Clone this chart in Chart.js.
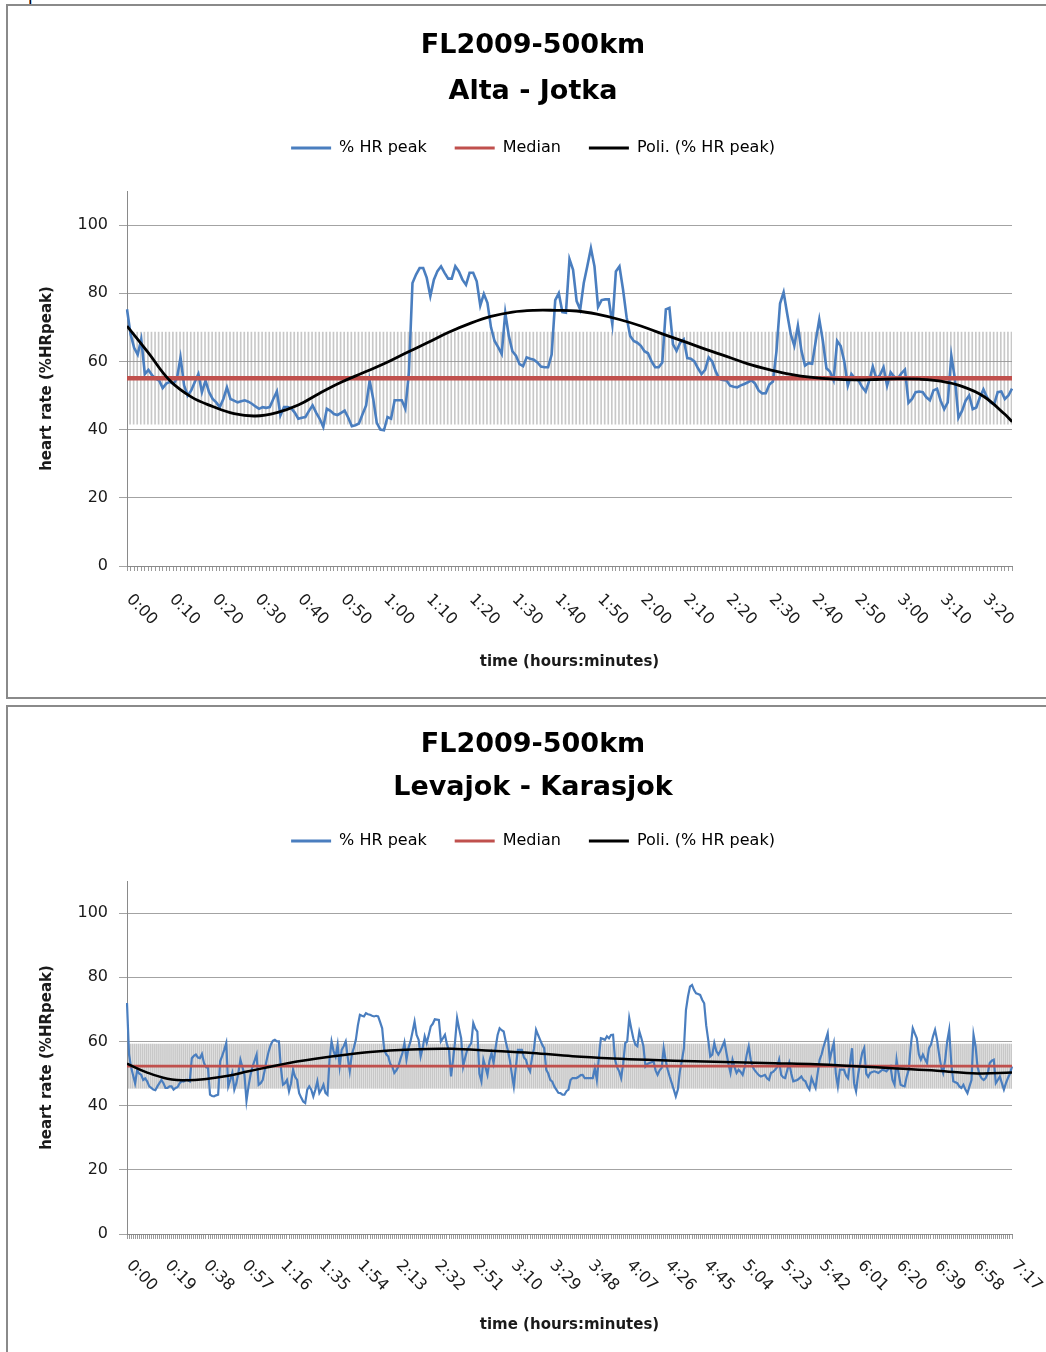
<!DOCTYPE html>
<html>
<head>
<meta charset="utf-8">
<title>FL2009-500km heart rate</title>
<script src="https://cdn.jsdelivr.net/npm/chart.js@4.4.0/dist/chart.umd.min.js"></script>
<style>
  html, body { margin: 0; padding: 0; background: #fff; overflow: hidden; }
  body { width: 1046px; height: 1352px; position: relative; }
  .frame { position: absolute; left: 6px; width: 1060px; border: 2px solid #8a8a8a; overflow: hidden; }
  #frameTop { top: 4px; height: 691px; }
  #frameBottom { top: 705px; height: 660px; }
  .frame canvas { position: absolute; left: 0; top: 0; }
  .stray { position: absolute; left: 28px; top: -17px; font: 20px/20px "Liberation Serif", serif; color: #000; }
</style>
</head>
<body>
<div class="stray">p</div>
<div class="frame" id="frameTop"><canvas id="chartTop" width="1050" height="691"></canvas></div>
<div class="frame" id="frameBottom"><canvas id="chartBottom" width="1050" height="660"></canvas></div>
<script>
// ---- Alta - Jotka (one sample every 50 s) ----
const TOP_SAMPLE_SEC = 50;
const topTickStep = 12; // 12 samples = 10 minutes
const topTickLabels = ['0:00', '0:10', '0:20', '0:30', '0:40', '0:50', '1:00', '1:10', '1:20', '1:30', '1:40',
    '1:50', '2:00', '2:10', '2:20', '2:30', '2:40', '2:50', '3:00', '3:10', '3:20'];
const topHR = [
    75.3, 68, 64, 62, 66.5, 56.3, 57.5, 56, 55, 54.4,
    52.2, 53.5, 54, 53.4, 55, 61.2, 53, 50, 51.5, 54,
    56.3, 51, 54.4, 51, 49, 48, 46.6, 49, 52.4, 49,
    48.5, 48, 48.3, 48.6, 48.2, 47.6, 46.8, 46.1, 46.6, 46.4,
    46.6, 49, 51.2, 44.2, 46.6, 46.6, 46.3, 45, 43.2, 43.5,
    43.7, 45.5, 47.1, 45, 43.2, 40.8, 46.1, 45.5, 44.6, 44.3,
    44.9, 45.6, 43.5, 41, 41.3, 41.8, 44.5, 47.1, 54.4, 49,
    42, 40, 39.8, 43.7, 43.2, 48.6, 48.6, 48.6, 46.1, 56.8,
    83, 85.5, 87.4, 87.4, 84.5, 79.2, 84, 86.5, 87.9, 86,
    84.3, 84.3, 87.9, 86.4, 84, 82.5, 86, 86, 83.5, 76.4,
    79.8, 77.2, 70, 66, 64.2, 62.2, 74.3, 67.5, 63, 61.7,
    59.2, 58.6, 61.2, 60.8, 60.5, 59.7, 58.5, 58.3, 58.3, 62,
    78, 80, 74.5, 74.3, 90, 86.9, 77.7, 75.2, 83, 88,
    93.2, 87.9, 76, 78, 78.2, 78.2, 70.9, 86.4, 87.9, 81.1,
    73, 67.5, 66, 65.5, 64.6, 63, 62.4, 60, 58.3, 58.3,
    59.7, 75.3, 75.7, 65, 63.1, 65.5, 66.5, 61, 60.8, 60,
    58, 56.3, 57.5, 61.2, 60, 57, 54.9, 54.6, 54.4, 52.9,
    52.6, 52.4, 53, 53.4, 53.9, 54.5, 53.5, 51.5, 50.6, 50.7,
    53.2, 54.1, 63, 77, 80.3, 74, 68, 64.6, 70.5, 63.1,
    58.8, 59.5, 59.3, 66, 72.3, 66, 58, 57, 54.5, 66,
    64.5, 60, 52.9, 56.3, 55, 54.4, 52.5, 51.2, 54.4, 58.5,
    55, 56, 58.3, 52.9, 56.8, 55.5, 55, 56.5, 57.6, 47.9,
    49, 51, 51.2, 51, 49.5, 48.6, 51.5, 52, 48.5, 46,
    48, 61.7, 54.9, 43.5, 45.5, 48.5, 50, 46, 46.5, 49.5,
    51.8, 49.5, 48, 47.5, 51, 51.2, 49, 50, 52
];
const topMedian = 55.1;
const topSpread = 13.5;
const topTrendMin = [0, 5, 10, 15, 20, 25, 30, 35, 40, 45, 50, 55, 60, 65, 70, 75, 80, 85, 90, 95, 100,
    105, 110, 115, 120, 125, 130, 135, 140, 145, 150, 155, 160, 165, 170, 175, 180, 185, 190, 195, 200, 205, 206.7];
const topTrendVal = [70.4, 62.5, 54.4, 49.6, 46.8, 44.7, 44.0, 45.0, 47.2, 50.7, 53.9, 56.6, 59.3, 62.4, 65.4,
    68.5, 71.1, 73.2, 74.5, 75.0, 75.0, 74.8, 73.8, 72.3, 70.4, 68.1, 65.9, 63.6, 61.5, 59.3, 57.6, 56.2,
    55.3, 54.8, 54.6, 54.7, 54.9, 54.8, 54.2, 52.7, 49.8, 44.5, 42.3];

// ---- Levajok - Karasjok (one sample per minute) ----
const BOTTOM_SAMPLE_SEC = 60;
const bottomTickStep = 19;
const bottomTickLabels = ['0:00', '0:19', '0:38', '0:57', '1:16', '1:35', '1:54', '2:13', '2:32', '2:51', '3:10',
    '3:29', '3:48', '4:07', '4:26', '4:45', '5:04', '5:23', '5:42', '6:01', '6:20', '6:39', '6:58', '7:17'];
const bottomHR = [
    72, 56, 52, 49.5, 47, 51, 50, 49.6, 48, 48.5,
    47.5, 46, 45.5, 45, 44.8, 46, 47, 48, 47, 45.5,
    45.5, 46, 46, 45, 45.5, 45.8, 47, 47.6, 47.5, 48,
    48, 47.6, 54.8, 55.5, 55.9, 55, 54.8, 56.1, 53.3, 52,
    51.7, 43.4, 43, 42.9, 43.2, 43.4, 53.8, 55.5, 57.4, 59.5,
    46, 48, 50.2, 45, 47, 50.2, 54.3, 52, 49.6, 41.5,
    46, 49.6, 52.2, 54, 55.9, 46.5, 47, 48, 51, 54.3,
    57, 59, 60.2, 60.5, 60, 60, 51.7, 46.5, 47, 48,
    44.5, 47, 51.2, 49, 48, 43.9, 42.5, 41.3, 40.8, 45,
    46, 45, 42.9, 45, 47.6, 43.9, 45, 46.5, 44, 43.4,
    54.3, 60, 57, 55.3, 59, 52.2, 57.4, 58.5, 60, 55,
    50.7, 55.9, 58, 60.5, 65, 68.3, 68, 67.8, 68.8, 68.5,
    68.3, 68, 67.8, 68, 67.8, 66, 64.1, 57.4, 56, 55.3,
    53, 52.2, 50.2, 51, 52.2, 54.5, 56.4, 59.5, 54.3, 58,
    60, 63, 66.2, 62, 60.5, 55.3, 58, 61.6, 59.5, 62,
    64.7, 65.5, 66.9, 66.8, 66.7, 60, 61, 62.1, 59, 57.4,
    49.1, 54.3, 60, 67.3, 64, 61, 52.2, 55, 57.4, 58.5,
    59.5, 65.7, 64, 63.1, 50, 47.6, 54.3, 52, 49.6, 54,
    56.4, 53.3, 58, 62, 64.1, 63.5, 63.1, 60, 57.4, 54.3,
    50, 46, 52, 57.4, 57.4, 57.4, 55, 54.3, 52, 50.7,
    55, 57.9, 63.6, 62, 60.5, 59, 57.9, 51.2, 50, 48,
    47.5, 46, 45, 44, 43.9, 43.4, 43.4, 44.5, 45, 48,
    48.6, 48.6, 48.6, 49, 49.5, 49.6, 48.6, 48.6, 48.6, 48.6,
    48.6, 51.7, 48, 55, 61, 60.8, 60.5, 61.6, 61, 62,
    62.1, 54.3, 52, 50.7, 48.6, 53, 59.5, 60, 67.3, 64,
    61, 59, 58.5, 63.1, 61, 58.5, 52.2, 53, 53.3, 53.5,
    53.8, 51, 49.6, 51, 51.7, 57.9, 54, 51.2, 49, 47,
    45, 42.9, 45, 50.7, 54, 57.9, 69.8, 74, 77.1, 77.6,
    76, 75, 74.8, 74.5, 73, 71.9, 65, 60.5, 55.3, 55.9,
    59.5, 57, 55.9, 57, 58.5, 60, 56.4, 53, 50.2, 54.3,
    52, 50.2, 51.2, 50.5, 49.6, 52, 55.9, 58.5, 54.3, 52,
    51, 50.2, 49.5, 49.1, 49.3, 49.6, 48.5, 48, 50.2, 50.5,
    51.2, 52, 54.3, 49.6, 48.8, 48.6, 51, 53.3, 50, 47.6,
    47.8, 48, 48.5, 49.1, 48, 47.6, 46, 45, 48.6, 47,
    45.5, 50, 54.3, 56, 58.5, 60.5, 62.6, 54.3, 57, 59.5,
    50, 46, 51.2, 51.2, 51.2, 49.5, 48.6, 53, 57.9, 47,
    44.5, 49.6, 53, 56.4, 57.9, 50, 49, 50.2, 50.5, 50.7,
    50.5, 50.2, 50.7, 51.2, 51, 50.7, 51.5, 52.2, 48, 46.5,
    54.3, 50, 46.5, 46.2, 46, 49, 51.2, 58.5, 64.1, 62.5,
    61, 56, 54.3, 55.9, 54.5, 53.3, 57.9, 59, 61.6, 63.6,
    60.5, 56, 52.2, 50.2, 54.3, 60, 63.6, 53.3, 47.6, 47.3,
    47, 46, 45.5, 46.5, 45, 43.9, 46, 48, 62.1, 58.5,
    52, 49.6, 48.5, 48, 48.6, 50, 53.3, 54, 54.3, 47,
    48, 49.1, 47, 45, 47, 48.6, 50, 52.2
];
const bottomMedian = 52.3;
const bottomSpread = 6.9;
const bottomTrendMin = [0, 10, 20, 30, 40, 50, 60, 80, 100, 120, 140, 160, 180, 200, 220, 240, 260, 280, 300,
    320, 340, 360, 380, 400, 420, 437];
const bottomTrendVal = [53.1, 50.3, 48.4, 47.9, 48.4, 49.3, 50.7, 53.3, 55.2, 56.7, 57.5, 57.7, 57.1, 56.4, 55.4,
    54.7, 54.2, 53.8, 53.5, 53.2, 52.9, 52.3, 51.6, 50.9, 50.0, 50.3];

const FONT = '"DejaVu Sans", sans-serif';
Chart.defaults.font.family = FONT;

function clockLabels(count, stepSec) {
    const out = [];
    for (let i = 0; i < count; i++) {
        const s = i * stepSec;
        const h = Math.floor(s / 3600);
        const m = Math.floor((s % 3600) / 60);
        out.push(h + ':' + String(m).padStart(2, '0') + ':' + String(s % 60).padStart(2, '0'));
    }
    return out;
}

// slanted time labels under the category axis (text runs down to the right)
const slantedLabels = {
    id: 'slantedLabels',
    afterDraw(chart, args, opts) {
        const xs = chart.scales.x;
        const ctx = chart.ctx;
        ctx.save();
        ctx.font = '16px ' + FONT;
        ctx.fillStyle = '#1a1a1a';
        ctx.textAlign = 'left';
        ctx.textBaseline = 'middle';
        opts.texts.forEach((t, k) => {
            ctx.save();
            ctx.translate(xs.getPixelForValue(k * opts.step) + 2, xs.top + opts.dy);
            ctx.rotate(Math.PI / 4);
            ctx.fillText(t, 0, 0);
            ctx.restore();
        });
        ctx.restore();
    }
};

function buildChart(canvasId, c) {
    const labels = clockLabels(c.hr.length, c.sampleSec);
    const lastMin = (c.hr.length - 1) * c.sampleSec / 60;
    return new Chart(document.getElementById(canvasId), {
        type: 'line',
        data: {
            labels: labels,
            datasets: [
                {
                    label: '% HR peak',
                    data: c.hr,
                    borderColor: '#4a7ebf',
                    backgroundColor: '#4a7ebf',
                    borderWidth: c.hrWidth,
                    pointRadius: 0,
                    tension: 0,
                    order: 3
                },
                {
                    label: 'Median',
                    data: [{x: 0, y: c.median}, {x: lastMin, y: c.median}],
                    xAxisID: 'xt',
                    borderColor: '#c0504d',
                    backgroundColor: '#c0504d',
                    borderWidth: c.medianWidth,
                    pointRadius: 0,
                    order: 2
                },
                {
                    label: 'Poli. (% HR peak)',
                    data: c.trendMin.map((m, i) => ({x: m, y: c.trendVal[i]})),
                    xAxisID: 'xt',
                    borderColor: '#000',
                    backgroundColor: '#000',
                    borderWidth: c.trendWidth,
                    pointRadius: 0,
                    tension: 0.4,
                    order: 1
                },
                {
                    type: 'bar',
                    label: '',
                    data: labels.map(() => [c.median - c.spread, c.median + c.spread]),
                    backgroundColor: 'rgba(145,145,145,0.5)',
                    barThickness: 1,
                    order: 4
                }
            ]
        },
        options: {
            responsive: false,
            animation: false,
            events: [],
            layout: {autoPadding: false, padding: 0},
            scales: {
                x: {
                    type: 'category',
                    offset: false,
                    grid: {display: true, drawOnChartArea: false, drawTicks: true, tickLength: 5, color: '#9a9a9a', offset: false},
                    border: {display: true, color: '#8a8a8a'},
                    ticks: {display: false, autoSkip: false},
                    title: {
                        display: true,
                        text: 'time (hours:minutes)',
                        color: '#1a1a1a',
                        font: {size: 15, weight: 'bold'},
                        padding: {top: 0, bottom: c.xTitlePad}
                    },
                    afterFit(s) { s.height = c.xAxisH; }
                },
                xt: {
                    type: 'linear',
                    display: false,
                    min: 0,
                    max: lastMin,
                    offset: false
                },
                y: {
                    min: 0,
                    max: 110,
                    grid: {color: '#a3a3a3', tickLength: 8},
                    border: {display: true, color: '#8a8a8a'},
                    ticks: {stepSize: 20, includeBounds: false, padding: 11, color: '#1a1a1a', font: {size: 16}},
                    title: {
                        display: true,
                        text: 'heart rate (%HRpeak)',
                        color: '#1a1a1a',
                        font: {size: 15, weight: 'bold'},
                        padding: {top: 30, bottom: 0}
                    },
                    afterFit(s) { s.width = 119; }
                },
                // empty right margin, so the title and legend stay centred on the whole frame
                yGap: {
                    position: 'right',
                    display: true,
                    grid: {display: false, drawTicks: false},
                    border: {display: false},
                    ticks: {display: false},
                    afterFit(s) { s.width = 46; }
                }
            },
            plugins: {
                title: {
                    display: true,
                    text: c.title,
                    color: '#000',
                    font: {size: 27, weight: 'bold', lineHeight: c.titleLine + 'px'},
                    padding: {top: c.titlePadTop, bottom: c.titlePadBottom}
                },
                legend: {
                    display: true,
                    position: 'top',
                    labels: {
                        boxWidth: 40,
                        boxHeight: 3,
                        padding: 28,
                        color: '#1a1a1a',
                        font: {size: 16},
                        generateLabels(chart) {
                            return chart.data.datasets
                                .map((ds, i) => ({text: ds.label, fillStyle: ds.borderColor, strokeStyle: ds.borderColor,
                                    lineWidth: 0, hidden: false, datasetIndex: i}))
                                .filter(it => it.text);
                        }
                    }
                },
                subtitle: {
                    display: true,
                    text: '',
                    weight: 500,
                    padding: 0,
                    font: {size: 10, lineHeight: c.spacer + 'px'}
                },
                tooltip: {enabled: false},
                slantedLabels: {texts: c.tickLabels, step: c.tickStep, dy: c.labelDy}
            }
        },
        plugins: [slantedLabels]
    });
}

buildChart('chartTop', {
    title: ['FL2009-500km', 'Alta - Jotka'],
    hr: topHR, sampleSec: TOP_SAMPLE_SEC, median: topMedian, spread: topSpread,
    trendMin: topTrendMin, trendVal: topTrendVal,
    tickLabels: topTickLabels, tickStep: topTickStep,
    hrWidth: 2.6, medianWidth: 4.5, trendWidth: 2.8,
    titleLine: 46, titlePadTop: 17, titlePadBottom: -3, spacer: 25,
    xAxisH: 131, xTitlePad: 26, labelDy: 31
});

buildChart('chartBottom', {
    title: ['FL2009-500km', 'Levajok - Karasjok'],
    hr: bottomHR, sampleSec: BOTTOM_SAMPLE_SEC, median: bottomMedian, spread: bottomSpread,
    trendMin: bottomTrendMin, trendVal: bottomTrendVal,
    tickLabels: bottomTickLabels, tickStep: bottomTickStep,
    hrWidth: 2.2, medianWidth: 2.6, trendWidth: 2.5,
    titleLine: 43, titlePadTop: 16.5, titlePadBottom: -4.5, spacer: 22,
    xAxisH: 133, xTitlePad: 33, labelDy: 29
});
</script>
</body>
</html>
